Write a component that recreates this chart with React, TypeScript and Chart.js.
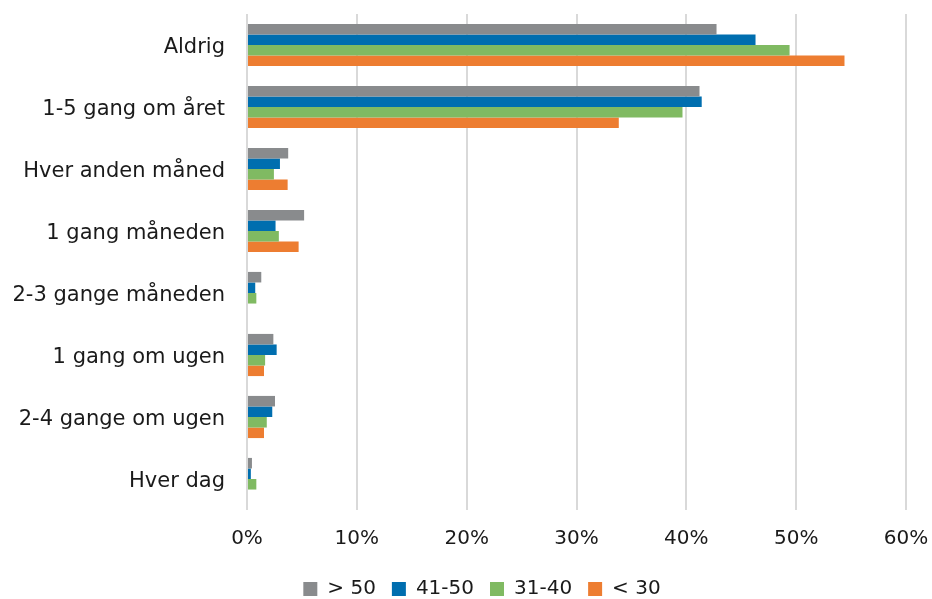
import React, { useEffect, useRef } from "react";
import { Chart, registerables } from "chart.js";

Chart.register(...registerables);

const categories = [
  "Aldrig",
  "1-5 gang om året",
  "Hver anden måned",
  "1 gang måneden",
  "2-3 gange måneden",
  "1 gang om ugen",
  "2-4 gange om ugen",
  "Hver dag",
];
const over50 = [42.75, 41.2, 3.75, 5.2, 1.3, 2.4, 2.55, 0.45];
const age41to50 = [46.3, 41.4, 3.0, 2.6, 0.75, 2.7, 2.3, 0.35];
const age31to40 = [49.4, 39.65, 2.45, 2.9, 0.85, 1.65, 1.8, 0.85];
const under30 = [54.4, 33.85, 3.7, 4.7, 0, 1.55, 1.55, 0];
const seriesLabels = ["> 50", "41-50", "31-40", "< 30"];
const seriesColors = ["#898B8D", "#006EAF", "#80BA62", "#ED7D31"];
const xTicks = [0, 10, 20, 30, 40, 50, 60];

const shiftLegend = {
  id: "shiftLegend",
  afterLayout(chart: any) {
    const lg = chart.legend;
    if (lg) {
      lg.left += 29;
      lg.right += 29;
    }
  },
};

export default function App() {
  const ref = useRef<HTMLCanvasElement>(null);
  useEffect(() => {
    const font = "'DejaVu Sans', Verdana, sans-serif";
    const values = [over50, age41to50, age31to40, under30];
    const chart = new Chart(ref.current!, {
      type: "bar",
      data: {
        labels: categories,
        datasets: values.map((v, i) => ({
          label: seriesLabels[i],
          data: v,
          backgroundColor: seriesColors[i],
          borderWidth: 0,
          barPercentage: 1,
          categoryPercentage: 0.68,
        })),
      },
      plugins: [shiftLegend],
      options: {
        indexAxis: "y",
        animation: false,
        responsive: false,
        maintainAspectRatio: false,
        layout: { padding: { left: 0, right: 26, top: 14, bottom: -10 } },
        plugins: {
          tooltip: { enabled: false },
          legend: {
            position: "bottom",
            labels: {
              color: "#1a1a1a",
              font: { family: font, size: 20 },
              boxWidth: 14,
              boxHeight: 14,
              padding: 16,
            },
          },
        },
        scales: {
          x: {
            min: 0,
            max: 60,
            afterBuildTicks: (s: any) => {
              s.ticks = xTicks.map((v) => ({ value: v }));
            },
            afterFit: (s: any) => {
              s.height = 53;
              s.paddingLeft = 0;
              s.paddingRight = 0;
            },
            ticks: {
              color: "#1a1a1a",
              font: { family: font, size: 20 },
              padding: 17,
              callback: (v: any) => v + "%",
            },
            grid: { color: "#D9D9D9", lineWidth: 2, drawTicks: false },
            border: { display: false },
          },
          y: {
            afterFit: (s: any) => {
              s.width = 247;
              s.paddingTop = 0;
              s.paddingBottom = 0;
            },
            ticks: {
              color: "#1a1a1a",
              font: { family: font, size: 21 },
              padding: 14,
              labelOffset: 3,
            },
            grid: { display: false },
            border: { display: false },
          },
        },
      },
    });
    return () => chart.destroy();
  }, []);
  return (
    <div style={{ position: "absolute", left: 0, top: 0, width: 932, height: 599, background: "#fff" }}>
      <canvas ref={ref} width={932} height={599} />
    </div>
  );
}
